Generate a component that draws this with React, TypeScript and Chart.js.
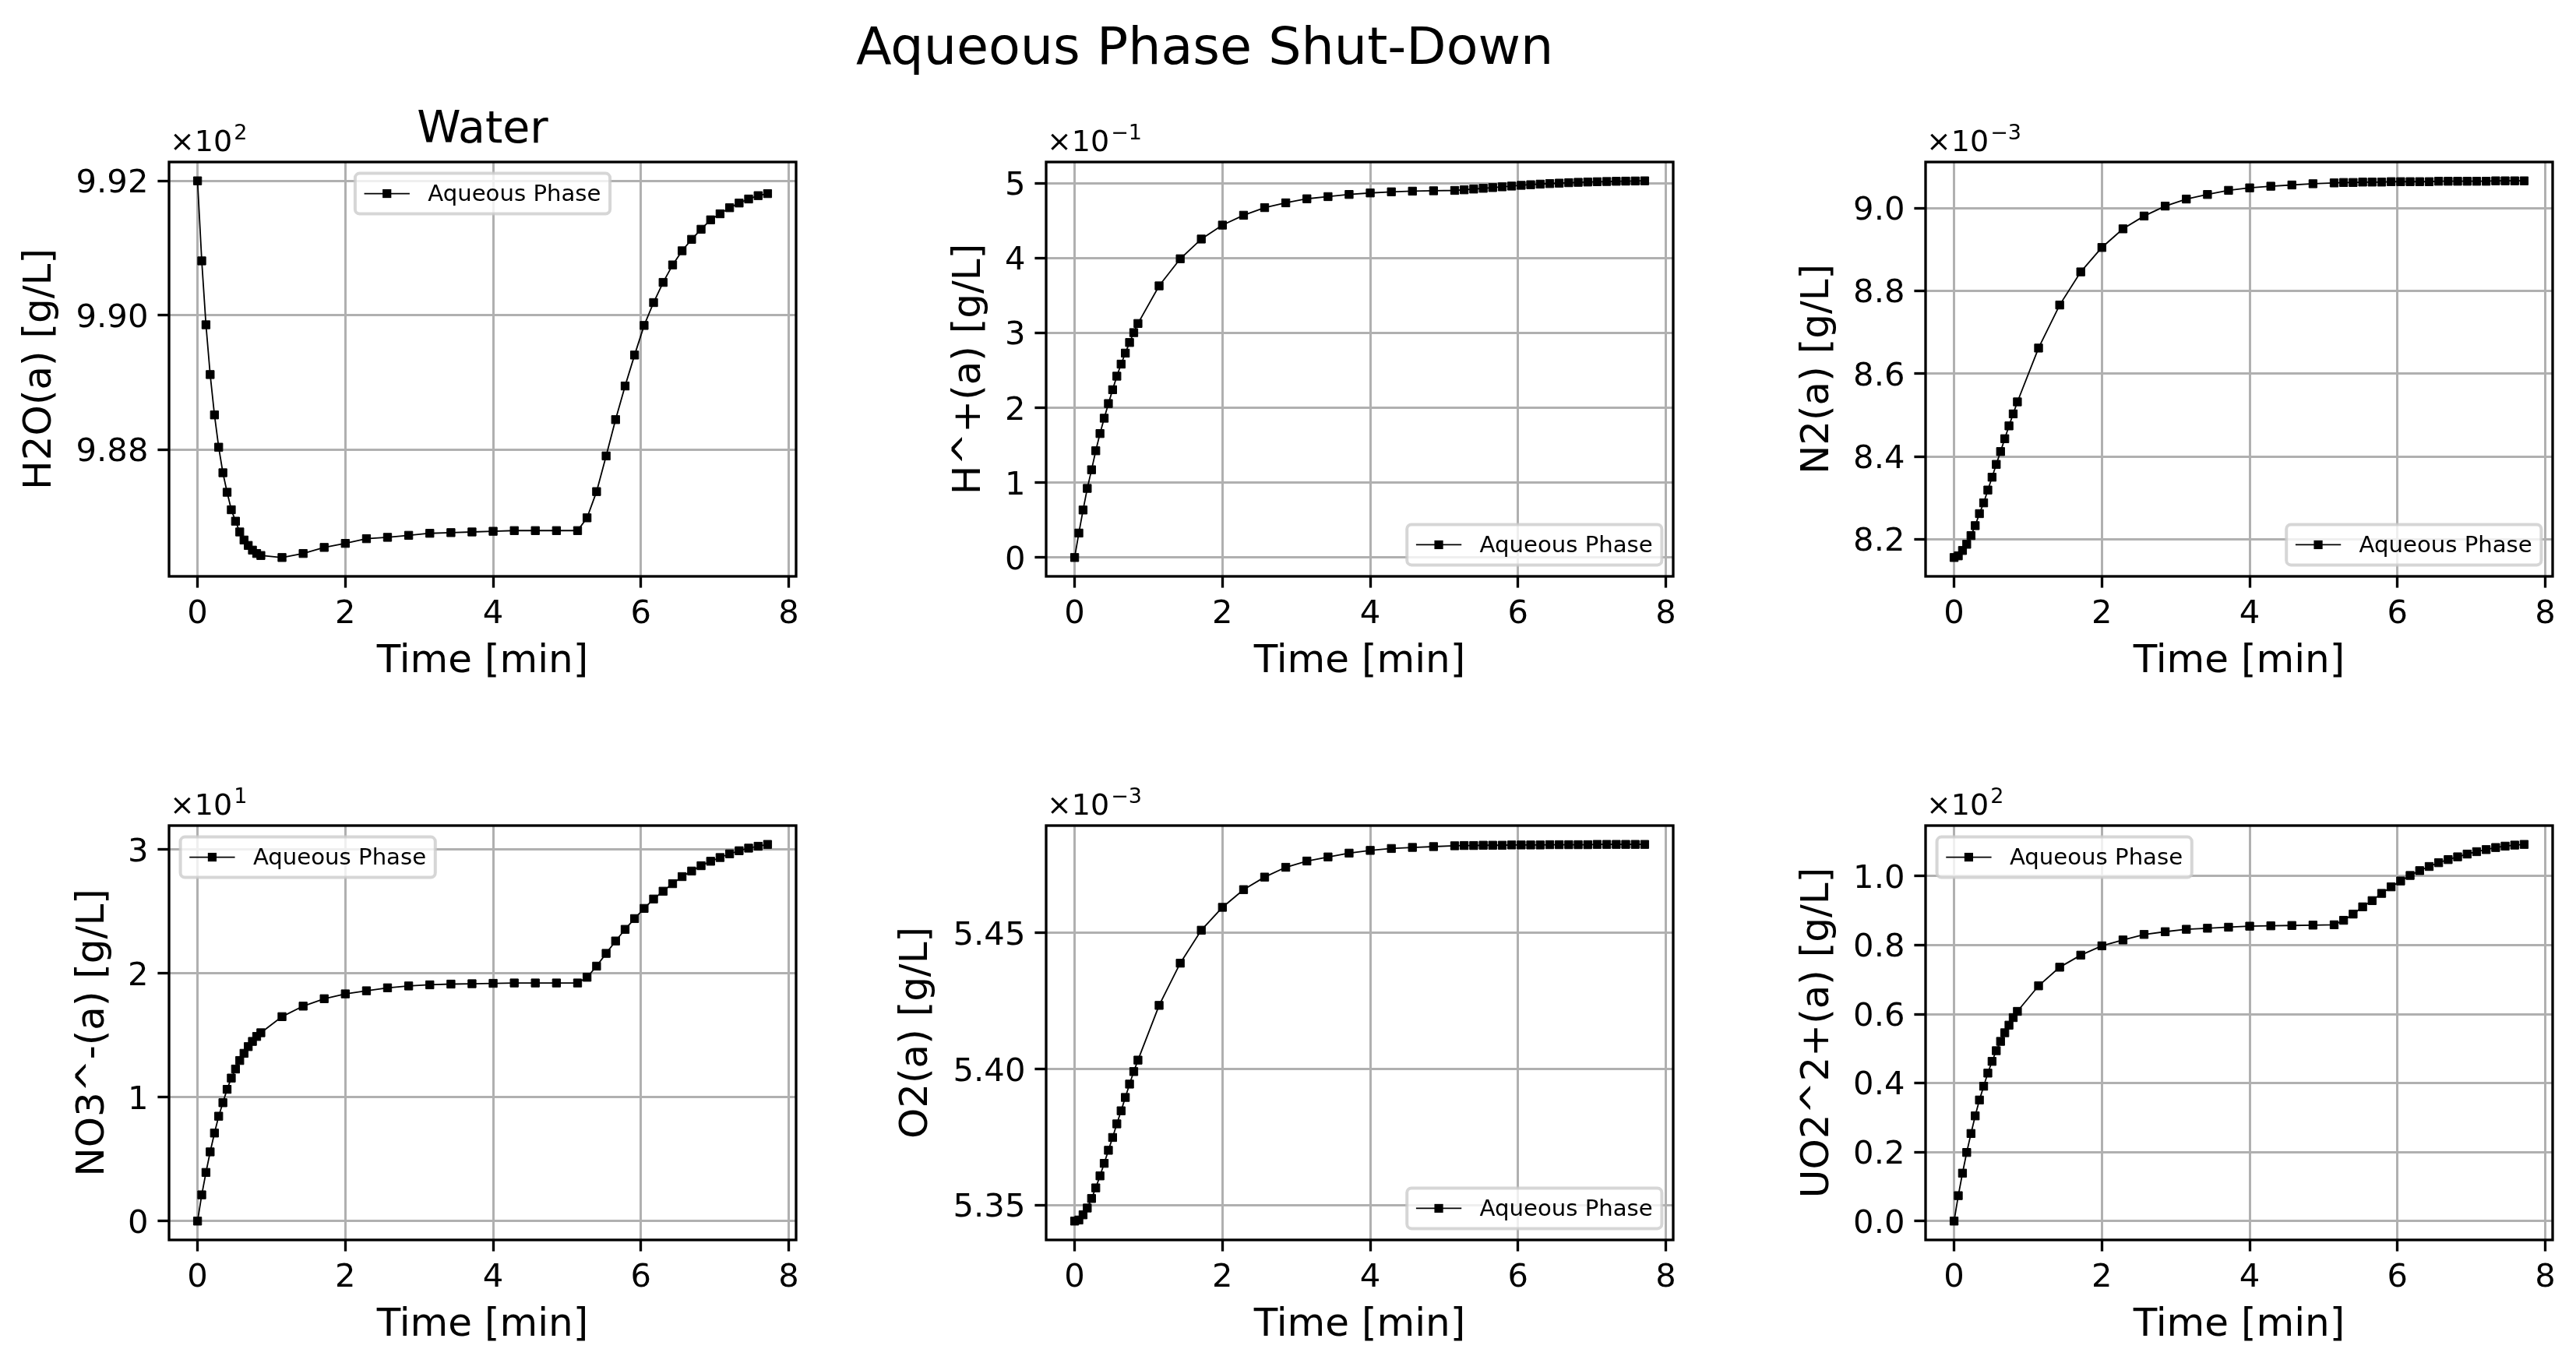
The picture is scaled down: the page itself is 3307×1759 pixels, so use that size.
import React, { useEffect, useRef } from "react";
import { Chart, registerables } from "chart.js";

Chart.register(...registerables);

// ---------------- DATA ----------------
const TIME = [
  0, 0.057, 0.114, 0.171, 0.229, 0.286, 0.343, 0.4, 0.457, 0.514, 0.571, 0.629, 0.686, 0.743, 0.8, 0.857,
  1.143, 1.429, 1.714, 2.0, 2.286, 2.571, 2.857, 3.143, 3.429, 3.714, 4.0, 4.286, 4.571, 4.857, 5.143,
  5.271, 5.4, 5.529, 5.657, 5.786, 5.914, 6.043, 6.171, 6.3, 6.429, 6.557, 6.686, 6.814, 6.943, 7.071,
  7.2, 7.329, 7.457, 7.586, 7.714,
];

const H2O = [
  992.0, 990.81, 989.86, 989.12, 988.52, 988.04, 987.66, 987.37, 987.11, 986.94, 986.78, 986.66, 986.58, 986.51, 986.46, 986.43,
  986.4, 986.46, 986.55, 986.61, 986.68, 986.7, 986.73, 986.76, 986.77, 986.78, 986.79, 986.8, 986.8, 986.8, 986.8,
  986.99, 987.38, 987.91, 988.45, 988.95, 989.41, 989.85, 990.19, 990.49, 990.75, 990.96, 991.13, 991.28, 991.42, 991.51,
  991.6, 991.67, 991.73, 991.78, 991.81,
];

const HPLUS = [
  0, 0.0327, 0.0635, 0.0924, 0.1173, 0.1427, 0.1657, 0.1862, 0.2058, 0.2243, 0.2424, 0.2585, 0.2732, 0.2874, 0.3006, 0.3128,
  0.3631, 0.3993, 0.4257, 0.4443, 0.4575, 0.4677, 0.4741, 0.4795, 0.4824, 0.4853, 0.4873, 0.4888, 0.4897, 0.4902, 0.4907,
  0.4915, 0.4925, 0.4935, 0.4945, 0.4955, 0.4965, 0.4975, 0.4983, 0.4991, 0.4998, 0.5004, 0.501, 0.5015, 0.5019, 0.5023,
  0.5026, 0.5029, 0.5031, 0.5033, 0.5035,
];

const N2 = [
  0.008156, 0.00816, 0.008173, 0.008188, 0.008209, 0.008233, 0.008262, 0.008288, 0.008319, 0.00835, 0.008381, 0.008412, 0.008443, 0.008474, 0.008503, 0.008532,
  0.008662, 0.008766, 0.008846, 0.008905, 0.00895, 0.008981, 0.009005, 0.009022, 0.009033, 0.009043, 0.009049, 0.009053, 0.009056, 0.009059, 0.009061,
  0.009062, 0.009062, 0.009063, 0.009063, 0.009063, 0.009064, 0.009064, 0.009064, 0.009064, 0.009064, 0.009065, 0.009065, 0.009065, 0.009065, 0.009065,
  0.009065, 0.009066, 0.009066, 0.009066, 0.009066,
];

const NO3 = [
  0, 2.12, 3.93, 5.59, 7.11, 8.47, 9.56, 10.64, 11.55, 12.28, 12.97, 13.55, 14.09, 14.51, 14.91, 15.21,
  16.51, 17.36, 17.96, 18.35, 18.6, 18.84, 18.99, 19.08, 19.14, 19.17, 19.2, 19.23, 19.23, 19.23, 19.23,
  19.69, 20.59, 21.62, 22.62, 23.56, 24.43, 25.25, 26.01, 26.64, 27.25, 27.82, 28.27, 28.7, 29.06, 29.36,
  29.66, 29.91, 30.12, 30.27, 30.42,
];

const O2 = [
  0.0053442, 0.0053446, 0.0053465, 0.005349, 0.0053525, 0.0053564, 0.0053608, 0.0053654, 0.0053702, 0.0053749, 0.0053799, 0.0053847, 0.0053896, 0.0053945, 0.0053991, 0.0054033,
  0.0054234, 0.0054389, 0.005451, 0.0054594, 0.0054659, 0.0054705, 0.0054741, 0.0054764, 0.0054779, 0.0054793, 0.0054803, 0.005481, 0.0054814, 0.0054817, 0.005482,
  0.0054821, 0.0054821, 0.0054822, 0.0054822, 0.0054822, 0.0054823, 0.0054823, 0.0054823, 0.0054823, 0.0054824, 0.0054824, 0.0054824, 0.0054824, 0.0054824, 0.0054825,
  0.0054825, 0.0054825, 0.0054825, 0.0054825, 0.0054825,
];

const UO2 = [
  0, 7.38, 13.9, 19.9, 25.4, 30.5, 35.1, 39.1, 42.9, 46.3, 49.4, 52.1, 54.6, 56.8, 59.0, 60.8,
  68.2, 73.6, 77.1, 79.8, 81.5, 83.1, 83.9, 84.6, 84.9, 85.2, 85.5, 85.6, 85.7, 85.8, 85.9,
  87.2, 89.0, 91.1, 92.9, 95.0, 96.9, 98.6, 100.2, 101.6, 102.8, 103.9, 104.8, 105.6, 106.4, 107.1,
  107.7, 108.3, 108.7, 109.0, 109.2,
];

const X_TICKS = [0, 2, 4, 6, 8];
const H2O_TICKS = [988, 990, 992];
const HPLUS_TICKS = [0, 0.1, 0.2, 0.3, 0.4, 0.5];
const N2_TICKS = [0.0082, 0.0084, 0.0086, 0.0088, 0.009];
const NO3_TICKS = [0, 10, 20, 30];
const O2_TICKS = [0.00535, 0.0054, 0.00545];
const UO2_TICKS = [0, 20, 40, 60, 80, 100];

const SUPTITLE = "Aqueous Phase Shut-Down";
const X_LABEL = "Time [min]";
const SERIES_LABEL = "Aqueous Phase";

// ---------------- LAYOUT / STYLE ----------------
const FONT = '"DejaVu Sans", "Liberation Sans", sans-serif';
const PAD_L = 200;
const PAD_T = 100;
const PAD_R = 40;
const PAD_B = 150;

type PanelCfg = {
  values: number[];
  ticks: number[];
  exp: number;
  decimals: number;
  ylabel: string;
  title?: string;
  legend: "upper center" | "upper left" | "lower right";
  box: [number, number, number, number];
  ylabelGap: number;
};

const PANELS: PanelCfg[] = [
  { values: H2O, ticks: H2O_TICKS, exp: 2, decimals: 2, ylabel: "H2O(a) [g/L]", title: "Water", legend: "upper center", box: [217, 208, 1022, 740], ylabelGap: 165 },
  { values: HPLUS, ticks: HPLUS_TICKS, exp: -1, decimals: 0, ylabel: "H^+(a) [g/L]", legend: "lower right", box: [1343, 208, 2148, 740], ylabelGap: 98 },
  { values: N2, ticks: N2_TICKS, exp: -3, decimals: 1, ylabel: "N2(a) [g/L]", legend: "lower right", box: [2472, 208, 3277, 740], ylabelGap: 138 },
  { values: NO3, ticks: NO3_TICKS, exp: 1, decimals: 0, ylabel: "NO3^-(a) [g/L]", legend: "upper left", box: [217, 1060, 1022, 1592], ylabelGap: 97 },
  { values: O2, ticks: O2_TICKS, exp: -3, decimals: 2, ylabel: "O2(a) [g/L]", legend: "lower right", box: [1343, 1060, 2148, 1592], ylabelGap: 166 },
  { values: UO2, ticks: UO2_TICKS, exp: 2, decimals: 1, ylabel: "UO2^2+(a) [g/L]", legend: "upper left", box: [2472, 1060, 3277, 1592], ylabelGap: 138 },
];

function roundRect(ctx: CanvasRenderingContext2D, x: number, y: number, w: number, h: number, r: number) {
  ctx.beginPath();
  ctx.moveTo(x + r, y);
  ctx.lineTo(x + w - r, y);
  ctx.arcTo(x + w, y, x + w, y + r, r);
  ctx.lineTo(x + w, y + h - r);
  ctx.arcTo(x + w, y + h, x + w - r, y + h, r);
  ctx.lineTo(x + r, y + h);
  ctx.arcTo(x, y + h, x, y + h - r, r);
  ctx.lineTo(x, y + r);
  ctx.arcTo(x, y, x + r, y, r);
  ctx.closePath();
}

function Panel({ p }: { p: PanelCfg }) {
  const ref = useRef<HTMLCanvasElement>(null);
  const [L, T, R, B] = p.box;
  const W = R - L + PAD_L + PAD_R;
  const H = B - T + PAD_T + PAD_B;

  useEffect(() => {
    if (!ref.current) return;
    const lo = Math.min(...p.values);
    const hi = Math.max(...p.values);
    const m = (hi - lo) * 0.05;
    const tlo = Math.min(...TIME);
    const thi = Math.max(...TIME);
    const tm = (thi - tlo) * 0.05;
    const mult = Math.pow(10, p.exp);

    const decor = {
      id: "mplDecor",
      afterDatasetsDraw(chart: any) {
        const { ctx, chartArea: ca } = chart;
        ctx.save();
        ctx.strokeStyle = "#000";
        ctx.lineWidth = 3.33;
        ctx.strokeRect(ca.left, ca.top, ca.right - ca.left, ca.bottom - ca.top);
        ctx.restore();
      },
      afterDraw(chart: any) {
        const { ctx, chartArea: ca } = chart;
        ctx.save();
        ctx.fillStyle = "#000";
        ctx.textBaseline = "alphabetic";
        ctx.textAlign = "left";
        // offset text (×10^n)
        const base = ca.top - 14;
        ctx.font = `38px ${FONT}`;
        ctx.fillText("\u00d710", ca.left + 1, base);
        const w1 = ctx.measureText("\u00d710").width;
        ctx.font = `27px ${FONT}`;
        const es = p.exp < 0 ? "\u2212" + Math.abs(p.exp) : String(p.exp);
        ctx.fillText(es, ca.left + 1 + w1 + 2, base - 15);
        // subplot title
        if (p.title) {
          ctx.font = `57px ${FONT}`;
          ctx.textAlign = "center";
          ctx.fillText(p.title, (ca.left + ca.right) / 2, ca.top - 25);
        }
        // legend
        const fs = 29.17;
        ctx.font = `${fs}px ${FONT}`;
        ctx.textAlign = "left";
        const label = chart.data.datasets[0].label;
        const tw = ctx.measureText(label).width;
        const pad = 0.4 * fs, hl = 2 * fs, htp = 0.8 * fs, bap = 0.5 * fs;
        const lw = pad + hl + htp + tw + pad;
        const lh = 2 * pad + 0.98 * fs;
        let x0 = ca.left + bap, y0 = ca.top + bap;
        if (p.legend === "upper center") x0 = (ca.left + ca.right) / 2 - lw / 2;
        if (p.legend === "lower right") { x0 = ca.right - bap - lw; y0 = ca.bottom - bap - lh; }
        roundRect(ctx, x0, y0, lw, lh, 0.2 * fs);
        ctx.fillStyle = "rgba(255,255,255,0.8)";
        ctx.fill();
        ctx.strokeStyle = "rgba(204,204,204,0.8)";
        ctx.lineWidth = 4;
        ctx.stroke();
        const cy = y0 + lh / 2;
        ctx.strokeStyle = "#000";
        ctx.lineWidth = 1.8;
        ctx.beginPath();
        ctx.moveTo(x0 + pad, cy);
        ctx.lineTo(x0 + pad + hl, cy);
        ctx.stroke();
        ctx.fillStyle = "#000";
        ctx.fillRect(x0 + pad + hl / 2 - 5.6, cy - 5.6, 11.2, 11.2);
        ctx.fillText(label, x0 + pad + hl + htp, cy + 9.5);
        ctx.restore();
      },
    };

    const chart = new Chart(ref.current, {
      type: "line",
      data: {
        datasets: [
          {
            label: SERIES_LABEL,
            data: TIME.map((t, i) => ({ x: t, y: p.values[i] })),
            borderColor: "#000",
            backgroundColor: "#000",
            borderWidth: 1.8,
            pointStyle: "rect",
            pointRadius: 7.3,
            pointBackgroundColor: "#000",
            pointBorderColor: "#000",
            pointBorderWidth: 1,
            tension: 0,
            fill: false,
          } as any,
        ],
      },
      options: {
        animation: false,
        responsive: false,
        devicePixelRatio: 1,
        events: [],
        layout: { padding: { left: 0, top: PAD_T, right: PAD_R, bottom: 0 } },
        plugins: { legend: { display: false }, tooltip: { enabled: false }, title: { display: false } },
        scales: {
          x: {
            type: "linear",
            min: tlo - tm,
            max: thi + tm,
            afterBuildTicks: (s: any) => {
              s.ticks = X_TICKS.map((v) => ({ value: v }));
            },
            afterFit: (s: any) => {
              s.height = PAD_B;
            },
            ticks: {
              font: { family: FONT, size: 41.7 },
              color: "#000",
              padding: 10,
              maxRotation: 0,
              autoSkip: false,
              callback: (v: any) => String(v),
            },
            grid: { color: "#b0b0b0", lineWidth: 3, tickColor: "#000", tickWidth: 3.33, tickLength: 14.6, drawTicks: true },
            border: { display: false },
            title: {
              display: true,
              text: X_LABEL,
              color: "#000",
              font: { family: FONT, size: 50, lineHeight: 1.2 },
              padding: { top: 0, bottom: 10.3 },
            },
          },
          y: {
            type: "linear",
            min: lo - m,
            max: hi + m,
            afterBuildTicks: (s: any) => {
              s.ticks = p.ticks.map((v) => ({ value: v }));
            },
            afterFit: (s: any) => {
              s.width = PAD_L;
            },
            ticks: {
              font: { family: FONT, size: 41.7 },
              color: "#000",
              padding: 12,
              labelOffset: 4,
              autoSkip: false,
              callback: (v: any) => (Number(v) / mult).toFixed(p.decimals),
            },
            grid: { color: "#b0b0b0", lineWidth: 3, tickColor: "#000", tickWidth: 3.33, tickLength: 14.6, drawTicks: true },
            border: { display: false },
            title: {
              display: true,
              text: p.ylabel,
              color: "#000",
              font: { family: FONT, size: 50, lineHeight: 1.2 },
              padding: { top: 170 - p.ylabelGap, bottom: 0 },
            },
          },
        },
      } as any,
      plugins: [decor as any],
    });
    return () => chart.destroy();
  }, []);

  return (
    <canvas
      ref={ref}
      width={W}
      height={H}
      style={{ position: "absolute", left: L - PAD_L, top: T - PAD_T, width: W, height: H }}
    />
  );
}

export default function App() {
  return (
    <div style={{ position: "absolute", left: 0, top: 0, width: 3307, height: 1759, background: "#fff", overflow: "hidden" }}>
      <div
        style={{
          position: "absolute",
          left: 1546.6,
          top: 25.6,
          transform: "translateX(-50%)",
          fontFamily: FONT,
          fontSize: 66.7,
          lineHeight: 1,
          whiteSpace: "nowrap",
          color: "#000",
        }}
      >
        {SUPTITLE}
      </div>
      {PANELS.map((p, i) => (
        <Panel key={i} p={p} />
      ))}
    </div>
  );
}
